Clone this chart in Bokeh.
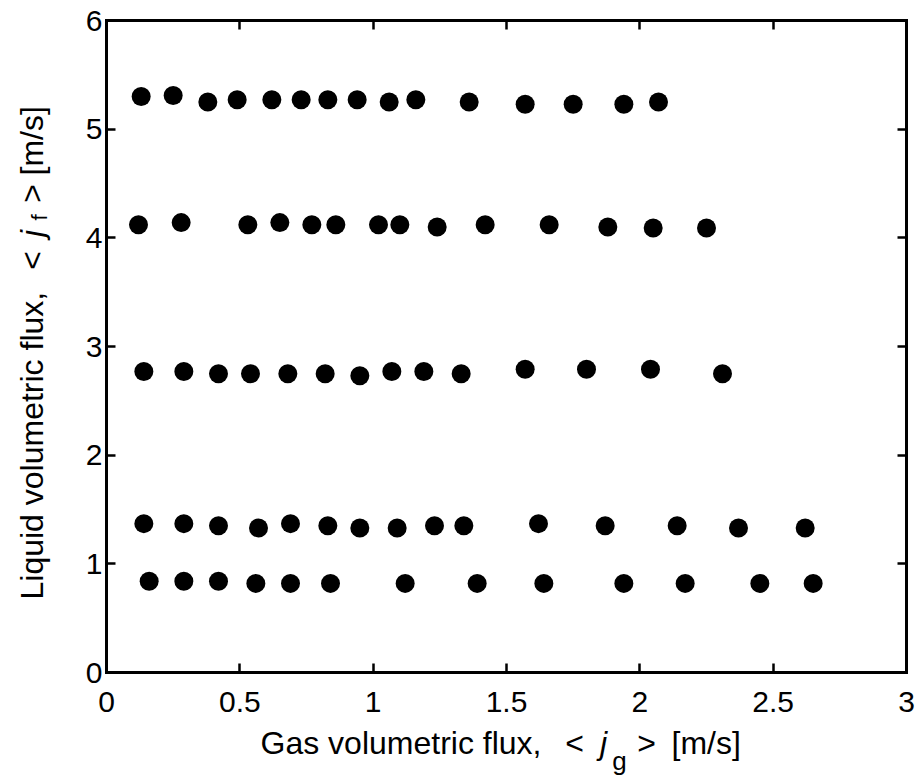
import math
from bokeh.plotting import figure
from bokeh.models import (ColumnDataSource, FixedTicker, LinearAxis, Label,
                          CustomJSTickFormatter, Range1d)
from bokeh.embed import file_html
from bokeh.resources import INLINE

# ---- data ----
jg_row1 = [0.16, 0.29, 0.42, 0.56, 0.69, 0.84, 1.12, 1.39, 1.64, 1.94, 2.17, 2.45, 2.65]
jf_row1 = [0.84, 0.84, 0.84, 0.82, 0.82, 0.82, 0.82, 0.82, 0.82, 0.82, 0.82, 0.82, 0.82]

jg_row2 = [0.14, 0.29, 0.42, 0.57, 0.69, 0.83, 0.95, 1.09, 1.23, 1.34, 1.62, 1.87, 2.14, 2.37, 2.62]
jf_row2 = [1.37, 1.37, 1.35, 1.33, 1.37, 1.35, 1.33, 1.33, 1.35, 1.35, 1.37, 1.35, 1.35, 1.33, 1.33]

jg_row3 = [0.14, 0.29, 0.42, 0.54, 0.68, 0.82, 0.95, 1.07, 1.19, 1.33, 1.57, 1.80, 2.04, 2.31]
jf_row3 = [2.77, 2.77, 2.75, 2.75, 2.75, 2.75, 2.73, 2.77, 2.77, 2.75, 2.79, 2.79, 2.79, 2.75]

jg_row4 = [0.12, 0.28, 0.53, 0.65, 0.77, 0.86, 1.02, 1.10, 1.24, 1.42, 1.66, 1.88, 2.05, 2.25]
jf_row4 = [4.12, 4.14, 4.12, 4.14, 4.12, 4.12, 4.12, 4.12, 4.10, 4.12, 4.12, 4.10, 4.09, 4.09]

jg_row5 = [0.13, 0.25, 0.38, 0.49, 0.62, 0.73, 0.83, 0.94, 1.06, 1.16, 1.36, 1.57, 1.75, 1.94, 2.07]
jf_row5 = [5.30, 5.31, 5.25, 5.27, 5.27, 5.27, 5.27, 5.27, 5.25, 5.27, 5.25, 5.23, 5.23, 5.23, 5.25]

x_ticks = [0, 0.5, 1, 1.5, 2, 2.5, 3]
y_ticks = [0, 1, 2, 3, 4, 5, 6]
X_MIN, X_MAX = 0, 3
Y_MIN, Y_MAX = 0, 6

FONT = "Liberation Sans"
W, H = 922, 782
# pixel box of the axes rectangle inside the page
LEFT, RIGHT, TOP, BOTTOM = 106, 906, 20, 672

sx = (RIGHT - LEFT) / (X_MAX - X_MIN)
sy = (BOTTOM - TOP) / (Y_MAX - Y_MIN)
x_range = Range1d(X_MIN - LEFT / sx, X_MAX + (W - RIGHT) / sx)
y_range = Range1d(Y_MIN - (H - BOTTOM) / sy, Y_MAX + TOP / sy)

p = figure(width=W, height=H, min_border=0,
           x_range=x_range, y_range=y_range,
           output_backend="svg", toolbar_location=None,
           x_axis_location=None, y_axis_location=None)
p.background_fill_color = "white"
p.border_fill_color = "white"
p.xgrid.visible = False
p.ygrid.visible = False
p.outline_line_color = None

fmt = CustomJSTickFormatter(code="return tick.toString();")


def make_axis(ticks, loc, bounds, show_labels, standoff):
    ax = LinearAxis(ticker=FixedTicker(ticks=ticks), fixed_location=loc,
                    bounds=bounds, formatter=fmt)
    ax.axis_line_color = "black"
    ax.axis_line_width = 3
    ax.axis_line_cap = "square"
    ax.major_tick_in = 9
    ax.major_tick_out = 0
    ax.major_tick_line_width = 2.5
    ax.major_tick_line_color = "black"
    ax.minor_tick_line_color = None
    ax.axis_label = None
    ax.major_label_text_font = FONT
    ax.major_label_text_font_size = "30px"
    ax.major_label_standoff = standoff
    ax.major_label_text_color = "black" if show_labels else None
    return ax


p.add_layout(make_axis(x_ticks, Y_MIN, (X_MIN, X_MAX), True, 19), "below")
p.add_layout(make_axis(x_ticks, Y_MAX, (X_MIN, X_MAX), False, 0), "above")
p.add_layout(make_axis(y_ticks, X_MIN, (Y_MIN, Y_MAX), True, 4), "left")
p.add_layout(make_axis(y_ticks, X_MAX, (Y_MIN, Y_MAX), False, 0), "right")

for xs, ys in [(jg_row1, jf_row1), (jg_row2, jf_row2), (jg_row3, jf_row3),
               (jg_row4, jf_row4), (jg_row5, jf_row5)]:
    src = ColumnDataSource(dict(x=xs, y=ys))
    p.scatter("x", "y", source=src, size=19, marker="circle",
              fill_color="black", line_color="black", line_width=0)


# ---- axis titles composed of pieces (italic j, subscripts) ----
# anchored at the data origin; offsets are screen pixels
def lab(text, px, py, size, align="left", style="normal", angle=0.0):
    p.add_layout(Label(x=X_MIN, y=Y_MIN, x_units="data", y_units="data",
                       x_offset=px - LEFT, y_offset=BOTTOM - py,
                       text=text, text_font=FONT, text_font_size=size,
                       text_font_style=style, text_color="black",
                       text_align=align, text_baseline="alphabetic",
                       angle=angle))


# x title
XB = 742
lab("Gas volumetric flux,", 260, XB, "32px")
lab("<", 574, XB, "32px", align="center")
lab("j", 603, XB, "32px", align="center", style="italic")
lab("g", 619, XB + 18, "26px", align="center")
lab(">", 646, XB, "32px", align="center")
lab("[m/s]", 671, XB, "32px")

# y title (rotated)
A = math.pi / 2
YB = 31
lab("Liquid volumetric flux,", YB, 599, "32px", angle=A)
lab("<", YB, 260, "32px", align="center", angle=A)
lab("j", YB, 233, "32px", align="center", style="italic", angle=A)
lab("f", YB + 8, 217, "22px", align="center", angle=A)
lab(">", YB, 193, "32px", align="center", angle=A)
lab("[m/s]", YB, 175, "32px", angle=A)

open("out.html", "w").write(file_html(p, INLINE))
